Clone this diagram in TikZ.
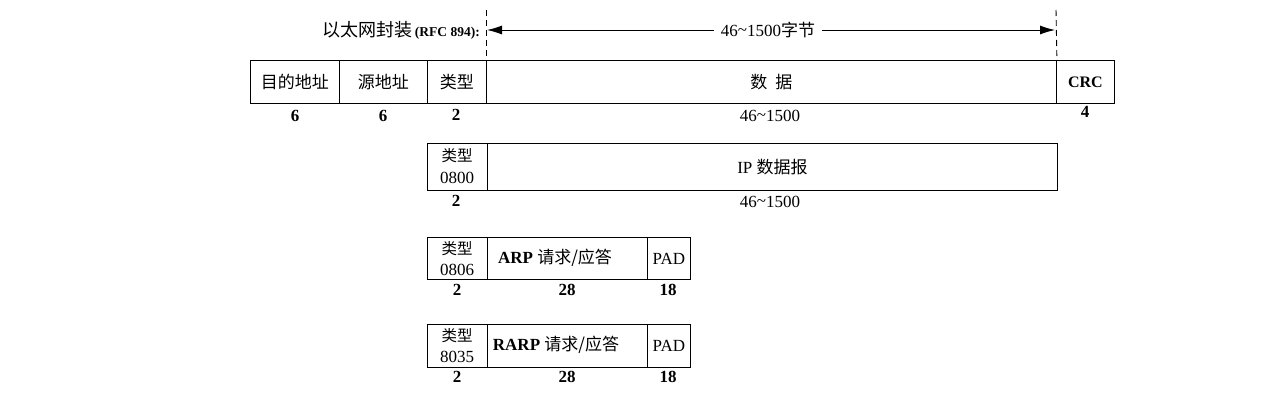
\documentclass[tikz,border=0pt]{standalone}
\usepackage{fontspec}
\setmainfont{Liberation Serif}
\newfontfamily\cjk{Noto Sans CJK SC}
\usetikzlibrary{arrows.meta}
\begin{document}
\begin{tikzpicture}[x=1pt,y=-1pt,
  cell/.style={draw,line width=0.9pt,anchor=north west,inner sep=0pt,minimum height=#1},
  lbl/.style={inner sep=0pt,font=\fontsize{17}{19}\selectfont},
  num/.style={inner sep=0pt,font=\fontsize{17}{19}\selectfont\bfseries},
  txt/.style={inner sep=0pt,font=\fontsize{17}{19}\selectfont\cjk},
  tsm/.style={inner sep=0pt,font=\fontsize{15.5}{17}\selectfont\cjk},
  hex/.style={inner sep=0pt,font=\fontsize{17}{19}\selectfont},
  dashv/.style={line width=0.9pt,dash pattern=on 6pt off 4pt},
  arr/.style={line width=0.9pt,-{Latex[length=15pt,width=9pt]}}]
\useasboundingbox (0,0) rectangle (1282,405);
% ---------- row 1
\node[cell=43pt,minimum width=89pt] (d1) at (250,60) {};
\node[cell=43pt,minimum width=88pt] (s1) at (339,60) {};
\node[cell=43pt,minimum width=59pt] (t1) at (427,60) {};
\node[cell=43pt,minimum width=570pt] (p1) at (486,60) {};
\node[cell=43pt,minimum width=58pt] (c1) at (1056,60) {};
\node[txt] at (d1.center) {目的地址};
\node[txt] at (s1.center) {源地址};
\node[txt] at (t1.center) {类型};
\node[txt] at (p1.center) {数\hspace{8pt}据};
\node[num,font=\fontsize{16}{18}\selectfont\bfseries] at (c1.center) {CRC};
\node[num] (n11) at (295,116) {6};
\node[num] (n12) at (383,116) {6};
\node[num] (n13) at (456,115) {2};
\node[lbl] (n14) at (770,116) {46\raisebox{1pt}{\char`~}1500};
\node[num] (n15) at (1085,112) {4};
% dashed guides and length arrow
\coordinate (dlt) at (486,10);
\coordinate (drt) at (1056,10);
\draw[dashv] (dlt) -- (p1.north west);
\draw[dashv] (drt) -- (p1.north east);
\node[lbl,inner xsep=7pt,fill=white] (len) at (768,30) {46\raisebox{1pt}{\char`~}1500{\cjk 字节}};
\coordinate (al) at (487,30);
\coordinate (ar) at (1055,30);
\draw[arr] (len.west) -- (al);
\draw[arr] (len.east) -- (ar);
\node[inner sep=0pt,anchor=east] (enc) at (480,30) {{\fontsize{18}{20}\selectfont\cjk 以太网封装} {\fontsize{13.5}{15}\selectfont\bfseries (RFC 894):}};
% ---------- row 2
\node[cell=47pt,minimum width=60pt] (t2) at (427,143) {};
\node[cell=47pt,minimum width=570pt] (p2) at (487,143) {};
\node[tsm] (k2) at (457,156) {类型};
\node[hex] (h2) at (457,178) {0800};
\node[lbl] at (p2.center) {IP {\cjk 数据报}};
\node[num] (n21) at (456,201) {2};
\node[lbl] (n22) at (770,202) {46\raisebox{1pt}{\char`~}1500};
% ---------- row 3
\node[cell=42pt,minimum width=60pt] (t3) at (427,237) {};
\node[cell=42pt,minimum width=160pt] (p3) at (487,237) {};
\node[cell=42pt,minimum width=43pt] (a3) at (647,237) {};
\node[tsm] (k3) at (457,249) {类型};
\node[hex] (h3) at (457,270) {0806};
\node[lbl] at (555,258) {\textbf{ARP} {\cjk 请求/应答}};
\node[lbl] at (a3.center) {PAD};
\node[num] (n31) at (457,290) {2};
\node[num] (n32) at (567,290) {28};
\node[num] (n33) at (668,290) {18};
% ---------- row 4
\node[cell=43pt,minimum width=60pt] (t4) at (427,324) {};
\node[cell=43pt,minimum width=160pt] (p4) at (487,324) {};
\node[cell=43pt,minimum width=43pt] (a4) at (647,324) {};
\node[tsm] (k4) at (457,336) {类型};
\node[hex] (h4) at (457,357) {8035};
\node[lbl] at (556,345) {\textbf{RARP} {\cjk 请求/应答}};
\node[lbl] at (a4.center) {PAD};
\node[num] (n41) at (457,377) {2};
\node[num] (n42) at (567,377) {28};
\node[num] (n43) at (668,377) {18};
\end{tikzpicture}
\end{document}
